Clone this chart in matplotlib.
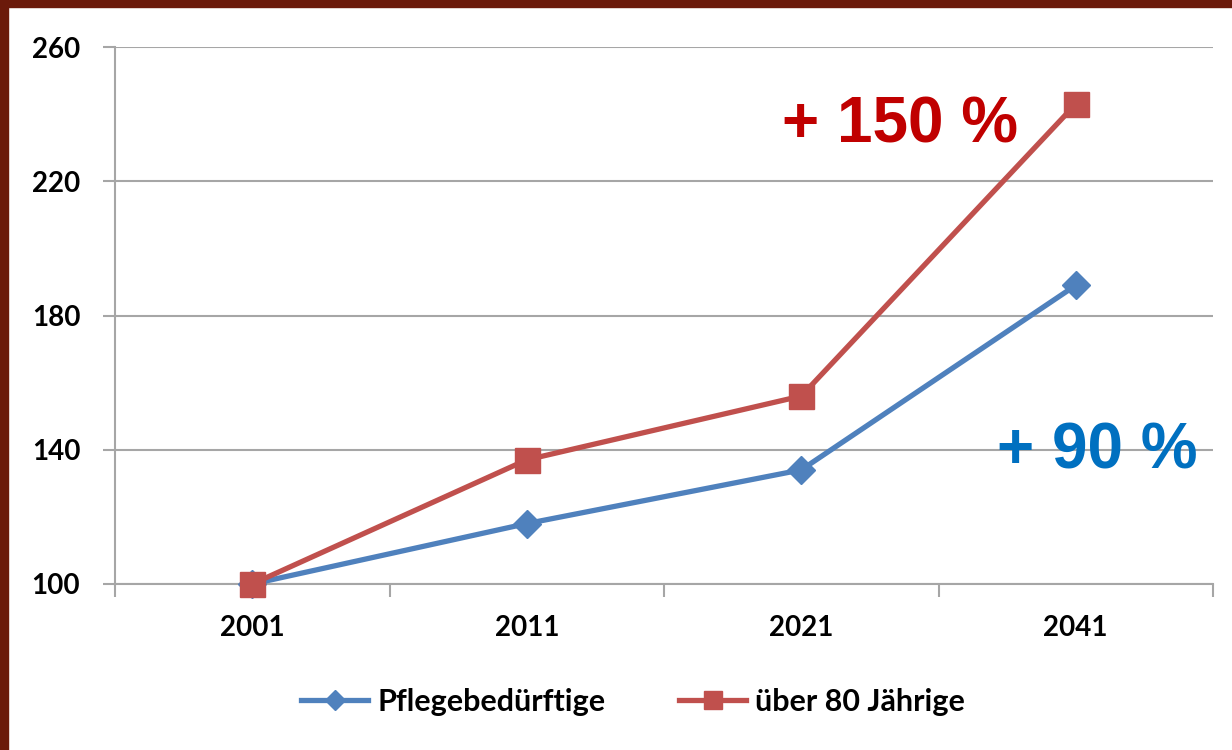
import matplotlib.pyplot as plt
from matplotlib.patches import Rectangle

years = ["2001", "2011", "2021", "2041"]
pflegebeduerftige = [100, 118, 134, 189]
ueber_80 = [100, 137, 156, 243]
y_ticks = [100, 140, 180, 220, 260]

blue = "#4F81BD"
red = "#C0504D"
grid_grey = "#A6A6A6"

plt.rcParams["font.family"] = ["Lato", "DejaVu Sans"]

fig = plt.figure(figsize=(12.32, 7.5), dpi=100)
ax = fig.add_axes([115 / 1232, 1 - 584 / 750, (1213 - 115) / 1232, (584 - 47) / 750])

x = list(range(len(years)))
ax.plot(x, pflegebeduerftige, color=blue, lw=3.8, marker="D", markersize=14,
        label="Pflegebedürftige", zorder=3, clip_on=False)
ax.plot(x, ueber_80, color=red, lw=3.8, marker="s", markersize=18,
        label="über 80 Jährige", zorder=4, clip_on=False)

ax.set_xlim(-0.5, 3.5)
ax.set_ylim(100, 260)
ax.set_yticks(y_ticks)
ax.set_xticks(x)
ax.set_xticklabels(years)
ax.set_xticks([-0.5, 0.5, 1.5, 2.5, 3.5], minor=True)

ax.grid(axis="y", color=grid_grey, lw=1.5, zorder=0)
for side in ["top", "right"]:
    ax.spines[side].set_visible(False)
for side in ["left", "bottom"]:
    ax.spines[side].set_color(grid_grey)
    ax.spines[side].set_linewidth(1.5)

ax.tick_params(axis="y", length=9, width=1.5, color=grid_grey, labelsize=20, pad=16)
ax.tick_params(axis="x", which="major", length=0, labelsize=20, pad=22)
ax.tick_params(axis="x", which="minor", length=9, width=1.5, color=grid_grey)
for lbl in ax.get_xticklabels() + ax.get_yticklabels():
    lbl.set_fontweight("bold")

ax.text(2.36, 236.5, "+ 150 %", color="#C00000", fontsize=46, fontweight="bold",
        family=["Liberation Sans", "DejaVu Sans"], ha="center", va="center")
ax.text(3.08, 139.5, "+ 90 %", color="#0070C0", fontsize=46, fontweight="bold",
        family=["Liberation Sans", "DejaVu Sans"], ha="center", va="center")

leg = fig.legend(loc="center", bbox_to_anchor=(0.514, 1 - 702 / 750), ncol=2,
                 frameon=False, fontsize=22, handlelength=2.2, columnspacing=2.4,
                 handletextpad=0.3, markerscale=0.75)
for t in leg.get_texts():
    t.set_fontweight("bold")

# dark red frame on top and left
fig.patches.append(Rectangle((0, 1 - 7 / 750), 1, 7 / 750, transform=fig.transFigure,
                             color="#6B1A0A", zorder=10))
fig.patches.append(Rectangle((0, 0), 8 / 1232, 1, transform=fig.transFigure,
                             color="#6B1A0A", zorder=10))

fig.savefig("out.png", dpi=100)
